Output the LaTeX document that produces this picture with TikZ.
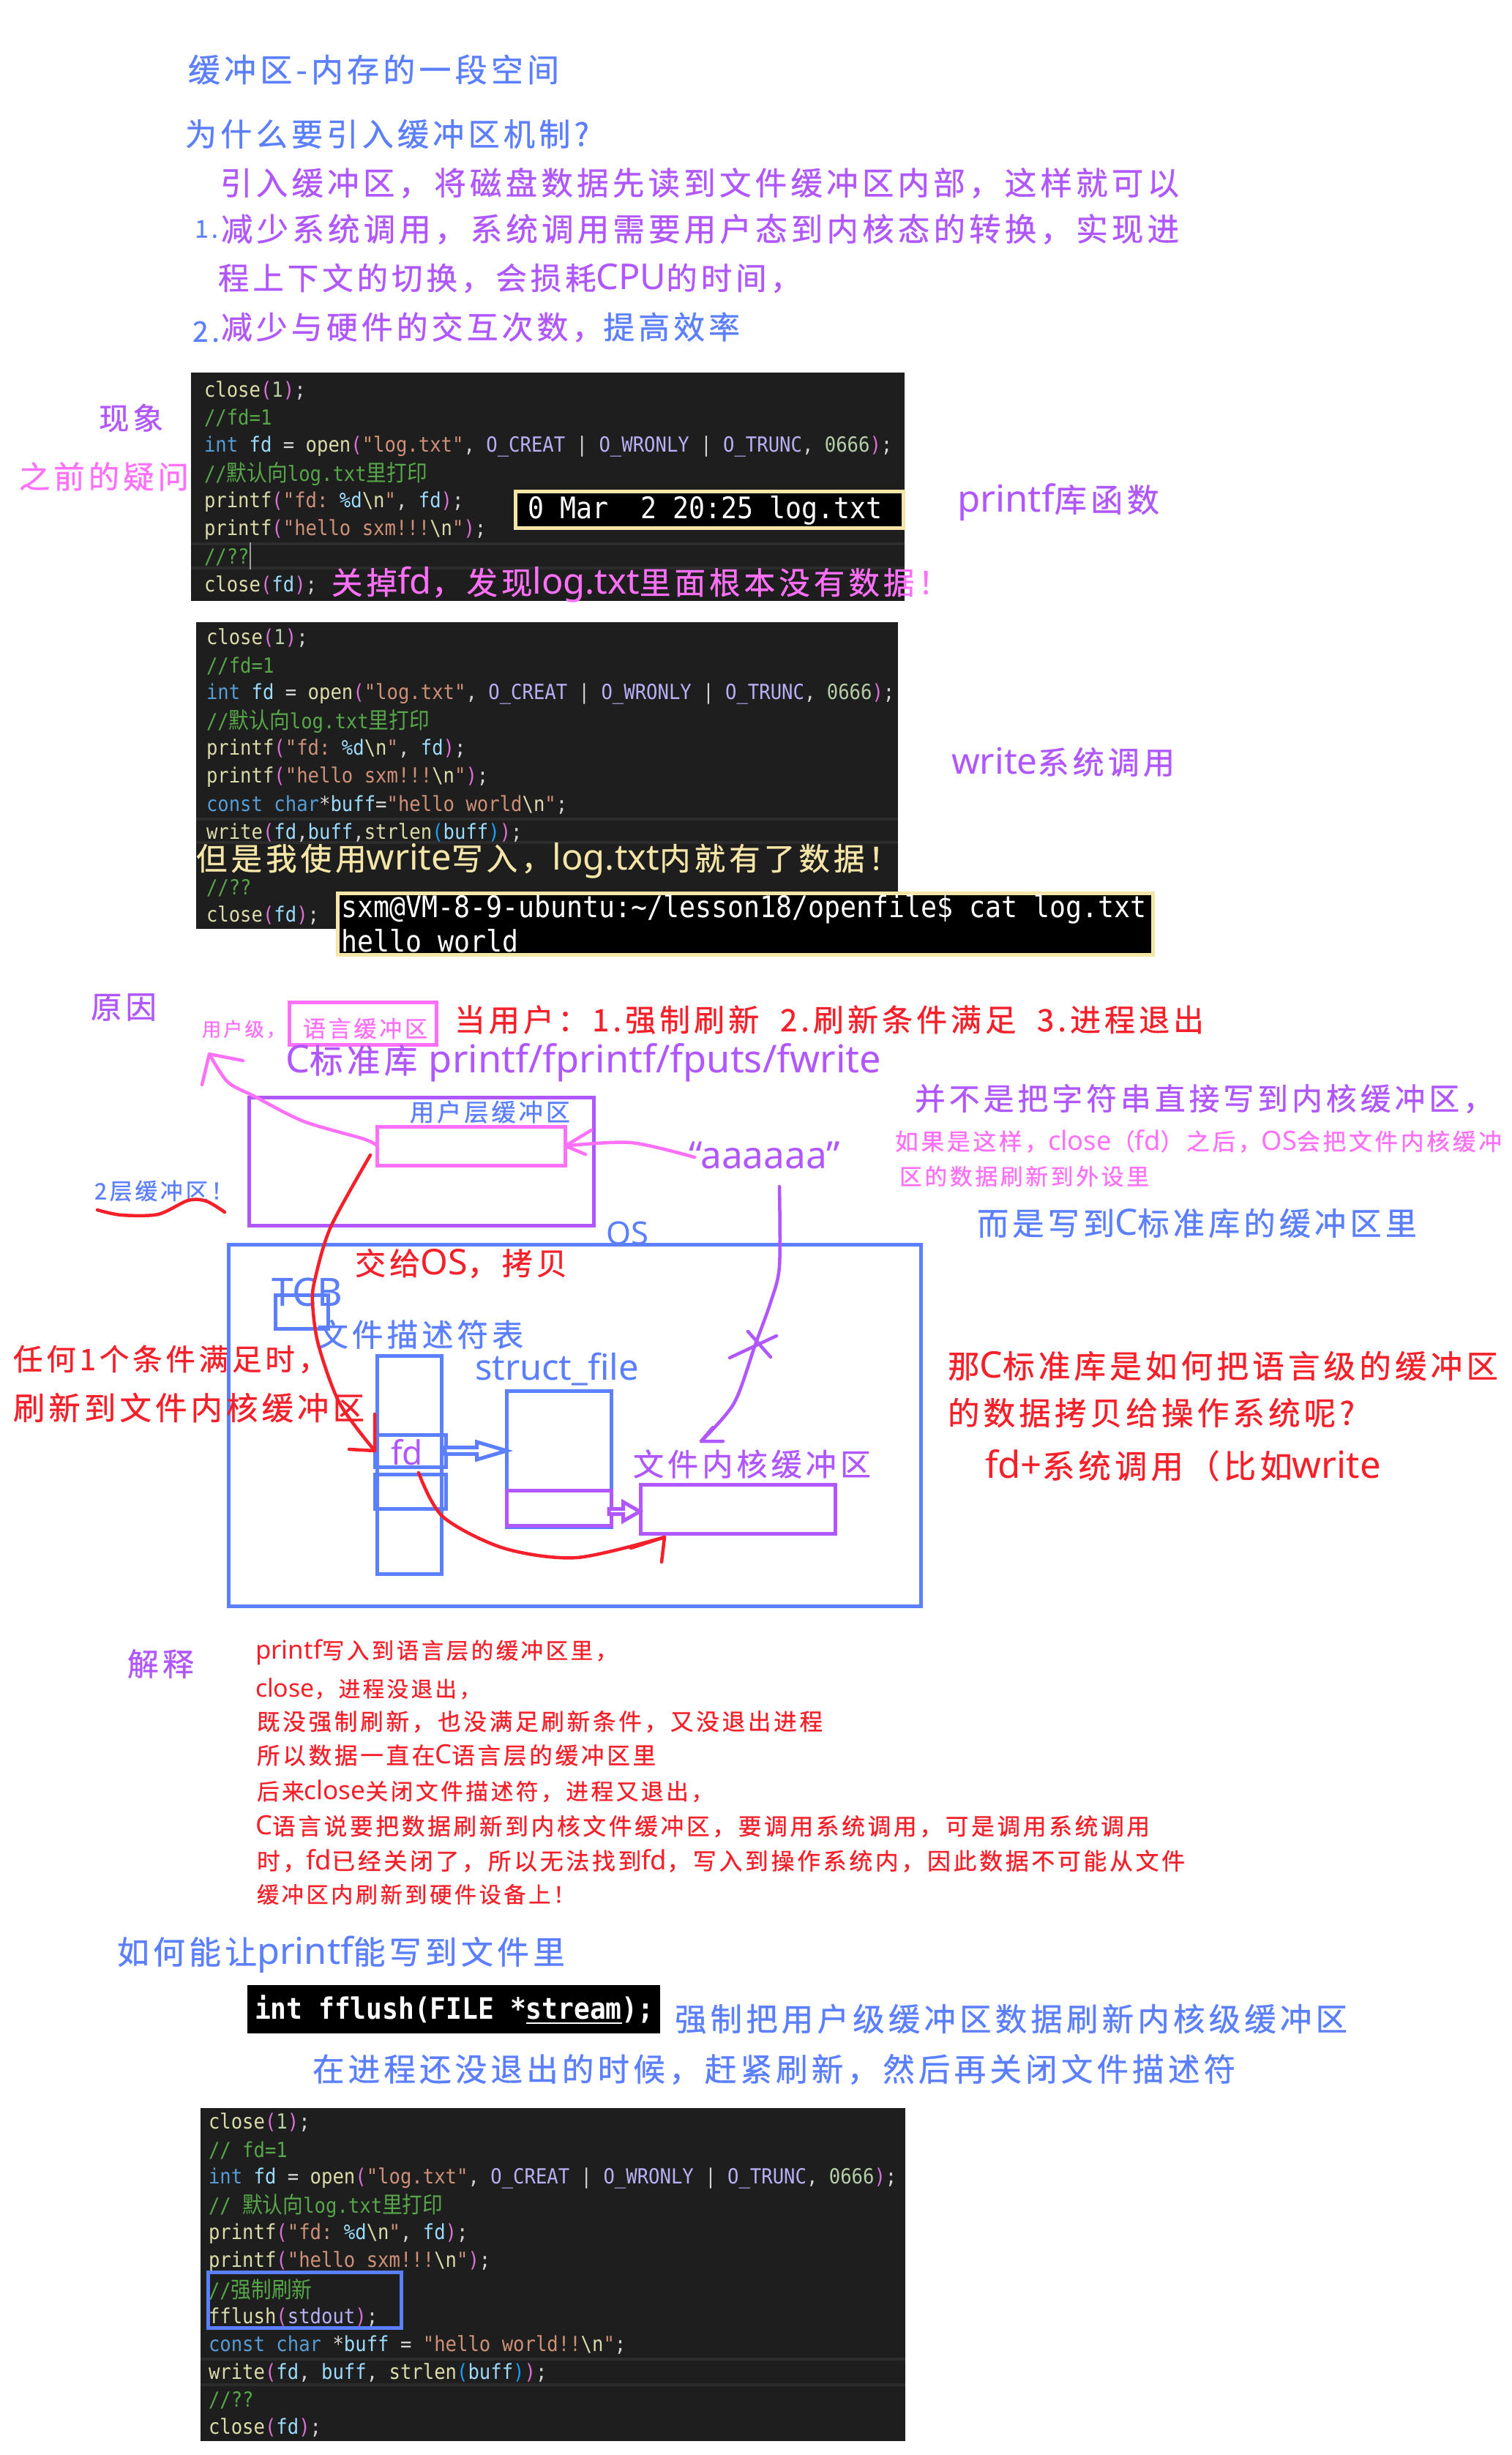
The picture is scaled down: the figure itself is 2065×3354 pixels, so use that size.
\documentclass[tikz,border=0pt]{standalone}
\usepackage{fontspec}
\usepackage{xcolor}
\usepackage{tikz}
\usetikzlibrary{shapes.arrows}

\setmonofont{DejaVu Sans Mono}
\newfontfamily\handfont[LetterSpace=12,FakeBold=0.7]{Noto Sans CJK SC}
\newfontfamily\cjkcode{Noto Sans CJK SC}
\newfontfamily\latfont{Noto Sans}

\definecolor{noteblue}{HTML}{5B7FFF}
\definecolor{notepurple}{HTML}{B057FF}
\definecolor{notepink}{HTML}{FF70F8}
\definecolor{notered}{HTML}{F5202A}
\definecolor{notecream}{HTML}{F5E6A8}
\definecolor{codebg}{HTML}{1E1E1E}
\definecolor{codehl}{HTML}{2C2C2C}
\definecolor{codefn}{HTML}{DCDCAA}
\definecolor{codecm}{HTML}{57A64A}
\definecolor{codekw}{HTML}{569CD6}
\definecolor{codevar}{HTML}{9CDCFE}
\definecolor{codestr}{HTML}{CE9178}
\definecolor{codecon}{HTML}{B8B0F5}
\definecolor{codenum}{HTML}{B5CEA8}
\definecolor{codepk}{HTML}{DA70D6}
\definecolor{codebl}{HTML}{179FFF}
\definecolor{codepl}{HTML}{D4D4D4}

\newlength\pxu
\setlength\pxu{0.01cm}

\newcommand{\hw}[2]{\resizebox{#1\pxu}{!}{#2}}
\newcommand{\lat}[1]{{\latfont\fontsize{11.5pt}{12pt}\selectfont #1}}
\newcommand{\cjkc}[1]{{\cjkcode\fontsize{8.75pt}{9pt}\selectfont #1}}
\newcommand{\narrow}[1]{\scalebox{0.9}[1]{#1}}
\newcommand{\tkfn}[1]{\textcolor{codefn}{#1}}
\newcommand{\tkcm}[1]{\textcolor{codecm}{#1}}
\newcommand{\tkkw}[1]{\textcolor{codekw}{#1}}
\newcommand{\tkvar}[1]{\textcolor{codevar}{#1}}
\newcommand{\tkstr}[1]{\textcolor{codestr}{#1}}
\newcommand{\tkcon}[1]{\textcolor{codecon}{#1}}
\newcommand{\tknum}[1]{\textcolor{codenum}{#1}}
\newcommand{\tkpk}[1]{\textcolor{codepk}{#1}}
\newcommand{\tkbl}[1]{\textcolor{codebl}{#1}}
\newcommand{\tkpl}[1]{\textcolor{codepl}{#1}}

\newcommand{\lnclose}{\tkfn{close}\tkpk{(}\tknum{1}\tkpk{)}\tkpl{;}}
\newcommand{\lnfdone}{\tkcm{//fd=1}}
\newcommand{\lnfdtwo}{\tkcm{// fd=1}}
\newcommand{\lnopen}{\tkkw{int} \tkvar{fd} \tkpl{=} \tkfn{open}\tkpk{(}\tkstr{"log.txt"}\tkpl{,} \tkcon{O\_CREAT} \tkpl{|} \tkcon{O\_WRONLY} \tkpl{|} \tkcon{O\_TRUNC}\tkpl{,} \tknum{0666}\tkpk{)}\tkpl{;}}
\newcommand{\lnhint}{\tkcm{//\cjkc{默认向}log.txt\cjkc{里打印}}}
\newcommand{\lnhinttwo}{\tkcm{// \cjkc{默认向}log.txt\cjkc{里打印}}}
\newcommand{\lnfd}{\tkfn{printf}\tkpk{(}\tkstr{"fd: }\tkvar{\%d}\tkfn{\textbackslash n}\tkstr{"}\tkpl{,} \tkvar{fd}\tkpk{)}\tkpl{;}}
\newcommand{\lnhello}{\tkfn{printf}\tkpk{(}\tkstr{"hello sxm!!!}\tkfn{\textbackslash n}\tkstr{"}\tkpk{)}\tkpl{;}}
\newcommand{\lnask}{\tkcm{//??}}
\newcommand{\lnclosefd}{\tkfn{close}\tkpk{(}\tkvar{fd}\tkpk{)}\tkpl{;}}
\newcommand{\lnbuff}{\tkkw{const} \tkkw{char}\tkpl{*}\tkvar{buff}\tkpl{=}\tkstr{"hello world}\tkfn{\textbackslash n}\tkstr{"}\tkpl{;}}
\newcommand{\lnwrite}{\tkfn{write}\tkpk{(}\tkvar{fd}\tkpl{,}\tkvar{buff}\tkpl{,}\tkfn{strlen}\tkbl{(}\tkvar{buff}\tkbl{)}\tkpk{)}\tkpl{;}}
\newcommand{\lnforce}{\tkcm{//\cjkc{强制刷新}}}
\newcommand{\lnflush}{\tkfn{fflush}\tkpk{(}\tkcon{stdout}\tkpk{)}\tkpl{;}}
\newcommand{\lnbufftwo}{\tkkw{const} \tkkw{char} \tkpl{*}\tkvar{buff} \tkpl{=} \tkstr{"hello world!!}\tkfn{\textbackslash n}\tkstr{"}\tkpl{;}}
\newcommand{\lnwritetwo}{\tkfn{write}\tkpk{(}\tkvar{fd}\tkpl{,} \tkvar{buff}\tkpl{,} \tkfn{strlen}\tkbl{(}\tkvar{buff}\tkbl{)}\tkpk{)}\tkpl{;}}

\tikzset{
    hand/.style={anchor=west,inner sep=0pt,outer sep=0pt,font=\handfont},
    codeline/.style={anchor=west,inner sep=0pt,outer sep=0pt,font=\ttfamily\fontsize{8.09pt}{9pt}\selectfont},
    termline/.style={anchor=west,inner sep=0pt,outer sep=0pt,text=white,font=\ttfamily\fontsize{11.55pt}{12pt}\selectfont},
    codebox/.style={fill=codebg,inner sep=0pt,outer sep=0pt},
    termbox/.style={fill=black,draw=notecream,line width=0.05cm,inner sep=0pt,outer sep=0pt},
    box/.style={draw=#1,line width=0.05cm,inner sep=0pt,outer sep=0pt},
    stroke/.style={draw=#1,line width=0.045cm,line cap=round,line join=round},
    hlbar/.style={draw=codehl,line width=0.04cm}
}

\begin{document}
\begin{tikzpicture}[x=0.01cm,y=-0.01cm]
    \fill[white] (0,0) rectangle (2065,3354);
    \useasboundingbox (0,0) rectangle (2065,3354);

    % notes on top
    \node[hand,text=noteblue] (title) at (257,95) {\hw{507}{缓冲区-内存的一段空间}};
    \node[hand,text=noteblue] (why) at (253,183) {\hw{552}{为什么要引入缓冲区机制?}};
    \node[hand,text=notepurple] (whya) at (301,250) {\hw{1310}{引入缓冲区，将磁盘数据先读到文件缓冲区内部，这样就可以}};
    \node[hand,text=noteblue,anchor=east,font=\handfont\fontsize{9.5pt}{11pt}\selectfont] (numa) at (298,313) {1.};
    \node[hand,text=notepurple] (whyb) at (302,313) {\hw{1309}{减少系统调用，系统调用需要用户态到内核态的转换，实现进}};
    \node[hand,text=notepurple] (whyc) at (298,380) {\hw{797}{程上下文的切换，会损耗\lat{CPU}的时间，}};
    \node[hand,text=noteblue,anchor=east,font=\handfont\fontsize{11pt}{13pt}\selectfont] (numb) at (300,453) {2.};
    \node[hand,text=notepurple] (whyd) at (302,447) {\hw{709}{减少与硬件的交互次数，\textcolor{noteblue}{提高效率}}};

    % first code block
    \node[codebox,minimum width=975\pxu,minimum height=312\pxu] (codea) at (748.5,665) {};
    \draw[hlbar] (codea.west |- 0,743) -- (codea.east |- 0,743);
    \draw[hlbar] (codea.west |- 0,776) -- (codea.east |- 0,776);
    \foreach \n/\row in {0/\lnclose,1/\lnfdone,2/\lnopen,3/\lnhint,4/\lnfd,5/\lnhello,6/\lnask,7/\lnclosefd}{
        \node[codeline] (codea\n) at (279,{533.5+38*\n}) {\narrow{\row}};
    }
    \draw[draw=codepl!75!black,line width=0.02cm] (342,741) -- (342,778);
    \node[termbox,minimum width=530\pxu,minimum height=50\pxu] (terma) at (969,696) {};
    \node[termline] (termatext) at (721,697) {\narrow{0 Mar\ \ 2 20:25 log.txt}};
    \node[hand,text=notepurple] (seen) at (135,571) {\hw{88}{现象}};
    \node[hand,text=notepink] (before) at (26,651) {\hw{232}{之前的疑问}};
    \node[hand,text=notepurple] (libfn) at (1308,686) {\hw{276}{\lat{printf}库函数}};
    \node[hand,text=notepink] (closed) at (453,799) {\hw{844}{关掉\lat{fd}，发现\lat{log.txt}里面根本没有数据！}};

    % second code block
    \node[codebox,minimum width=959\pxu,minimum height=419\pxu] (codeb) at (747.5,1059.5) {};
    \draw[hlbar] (codeb.west |- 0,1119) -- (codeb.east |- 0,1119);
    \draw[hlbar] (codeb.west |- 0,1151) -- (codeb.east |- 0,1151);
    \foreach \n/\row in {0/\lnclose,1/\lnfdone,2/\lnopen,3/\lnhint,4/\lnfd,5/\lnhello,6/\lnbuff,7/\lnwrite,9/\lnask,10/\lnclosefd}{
        \node[codeline] (codeb\n) at (282,{872+37.9*\n}) {\narrow{\row}};
    }
    \node[hand,text=notecream] (butwrite) at (268,1176) {\hw{961}{但是我使用\lat{write}写入，\lat{log.txt}内就有了数据！}};
    \node[termbox,minimum width=1114\pxu,minimum height=84\pxu] (termb) at (1018,1262) {};
    \node[termline] (termbtexta) at (466,1242) {\narrow{sxm@VM-8-9-ubuntu:\textasciitilde/lesson18/openfile\$ cat log.txt}};
    \node[termline] (termbtextb) at (466,1285) {\narrow{hello world}};
    \node[hand,text=notepurple] (syscall) at (1300,1041) {\hw{305}{\lat{write}系统调用}};

    % buffer diagram
    \node[hand,text=notepurple] (reason) at (124,1376) {\hw{90}{原因}};
    \node[hand,text=notepink] (userlvl) at (276,1406) {\hw{114}{用户级，}};
    \node[box=notepink,minimum width=201\pxu,minimum height=58\pxu] (langbox) at (496,1398.5) {};
    \node[hand,text=notepink] (langtext) at (414,1405) {\hw{170}{语言缓冲区}};
    \node[hand,text=notered] (when) at (621,1393) {\hw{1024}{当用户：1.强制刷新\ \ 2.刷新条件满足\ \ 3.进程退出}};
    \node[hand,text=notepurple] (stdc) at (390,1452) {\hw{814}{\lat{C}标准库 \lat{printf/fprintf/fputs/fwrite}}};
    \node[box=notepurple,minimum width=471\pxu,minimum height=175\pxu] (userbox) at (576,1586.5) {};
    \node[hand,text=noteblue] (usertext) at (560,1519) {\hw{219}{用户层缓冲区}};
    \node[box=notepink,minimum width=257\pxu,minimum height=53\pxu] (cbuf) at (644,1565.5) {};
    \node[hand,text=notepurple] (str) at (941,1578) {\hw{207}{\lat{“aaaaaa”}}};
    \node[hand,text=noteblue] (twolayer) at (129,1627) {\hw{190}{2层缓冲区！}};

    \node[hand,text=noteblue] (ostext) at (828,1685) {\hw{58}{\lat{OS}}};
    \node[box=noteblue,minimum width=946\pxu,minimum height=494\pxu] (osbox) at (785,1947) {};
    \node[hand,text=notered] (handover) at (485,1726) {\hw{290}{交给\lat{OS}，拷贝}};
    \node[hand,text=noteblue] (tcbtext) at (371,1765) {\hw{97}{\lat{TCB}}};
    \node[box=noteblue,minimum width=72\pxu,minimum height=46\pxu] (tcb) at (412,1792) {};
    \node[hand,text=noteblue] (fdtext) at (433,1823) {\hw{282}{文件描述符表}};
    \node[box=noteblue,minimum width=88\pxu,minimum height=298\pxu] (fdtable) at (559,2001) {};
    \node[box=noteblue,minimum width=97\pxu,minimum height=44\pxu] (fdcell) at (560.5,1982) {};
    \node[box=noteblue,minimum width=97\pxu,minimum height=47\pxu] (nextcell) at (560.5,2037.5) {};
    \node[hand,text=notepurple,anchor=center] (fdlabel) at (556,1984) {\hw{44}{\lat{fd}}};
    \node[hand,text=noteblue] (structtext) at (649,1871) {\hw{224}{\lat{struct\_file}}};
    \node[box=noteblue,minimum width=143\pxu,minimum height=186\pxu] (structbox) at (764,1993) {};
    \node[box=notepurple,minimum width=143\pxu,minimum height=48\pxu] (structbuf) at (764,2060) {};
    \node[hand,text=notepurple] (kerneltext) at (865,2000) {\hw{325}{文件内核缓冲区}};
    \node[box=notepurple,minimum width=266\pxu,minimum height=67\pxu] (kernelbuf) at (1008.5,2061.5) {};
    \node[single arrow,draw=noteblue,fill=white,line width=0.05cm,inner sep=0pt,
        minimum height=84\pxu,minimum width=24\pxu,single arrow head extend=0.045cm,
        single arrow tip angle=33] (fdarrow) at (643,1982) {};
    \node[single arrow,draw=notepurple,fill=white,line width=0.05cm,inner sep=0pt,
        minimum height=42\pxu,minimum width=26\pxu,single arrow head extend=0.065cm,
        single arrow tip angle=60] (bufarrow) at (850,2065) {};

    \node[hand,text=notered] (anya) at (18,1857) {\hw{430}{任何1个条件满足时，}};
    \node[hand,text=notered] (anyb) at (18,1923) {\hw{480}{刷新到文件内核缓冲区}};

    % pink arrows
    \coordinate (sa) at (str.west);
    \coordinate (sb) at (862,1561);
    \coordinate (sc) at (cbuf.east);
    \coordinate (sd) at (808,1544);
    \coordinate (se) at (800,1577);
    \draw[stroke=notepink] plot[smooth] coordinates {(949,1581) (sb) (sc)};
    \draw[stroke=notepink] (sd) -- (sc) -- (se);

    \coordinate (ua) at (cbuf.west);
    \coordinate (ub) at (497,1556);
    \coordinate (uc) at (415,1532);
    \coordinate (ud) at (348,1498);
    \coordinate (ue) at (311,1478);
    \coordinate (uf) at (286,1440);
    \coordinate (ug) at (276,1482);
    \coordinate (uh) at (332,1449);
    \draw[stroke=notepink] plot[smooth] coordinates {(ua) (ub) (uc) (ud) (ue) (uf)};
    \draw[stroke=notepink] (ug) -- (uf) -- (uh);

    % purple crossed arrow
    \coordinate (pa) at (1065,1621);
    \coordinate (pb) at (1065,1730);
    \coordinate (pc) at (1053,1779);
    \coordinate (pd) at (1032,1837);
    \coordinate (pe) at (1003,1917);
    \coordinate (pf) at (958,1969);
    \coordinate (pg) at (974,1950);
    \coordinate (ph) at (988,1969);
    \draw[stroke=notepurple] plot[smooth] coordinates {(pa) (pb) (pc) (pd) (pe) (pf)};
    \draw[stroke=notepurple] (pg) -- (pf) -- (ph);
    \coordinate (xa) at (1022,1819);
    \coordinate (xb) at (1053,1854);
    \coordinate (xc) at (1061,1825);
    \coordinate (xd) at (997,1855);
    \draw[stroke=notepurple] (xa) -- (xb);
    \draw[stroke=notepurple] (xc) -- (xd);

    % red arrows
    \coordinate (ra) at (506,1578);
    \coordinate (rb) at (452,1676);
    \coordinate (rc) at (431,1745);
    \coordinate (rd) at (427,1779);
    \coordinate (re) at (435,1837);
    \coordinate (rf) at (464,1917);
    \coordinate (rg) at (fdcell.west);
    \coordinate (rh) at (512,1932);
    \coordinate (ri) at (477,1980);
    \draw[stroke=notered] plot[smooth] coordinates {(ra) (rb) (rc) (rd) (re) (rf) (rg)};
    \draw[stroke=notered] (rh) -- (rg) -- (ri);

    \coordinate (ka) at (572,2012);
    \coordinate (kb) at (605,2072);
    \coordinate (kc) at (688,2115);
    \coordinate (kd) at (788,2128);
    \coordinate (ke) at (908,2100);
    \coordinate (kf) at (904,2134);
    \coordinate (kg) at (862,2115);
    \draw[stroke=notered] plot[smooth] coordinates {(ka) (kb) (kc) (kd) (ke)};
    \draw[stroke=notered] (kf) -- (ke) -- (kg);

    \coordinate (wa) at (133,1653);
    \coordinate (wb) at (166,1660);
    \coordinate (wc) at (216,1659);
    \coordinate (wd) at (257,1640);
    \coordinate (we) at (282,1641);
    \coordinate (wf) at (307,1656);
    \draw[stroke=notered] plot[smooth] coordinates {(wa) (wb) (wc) (wd) (we) (wf)};

    % notes on the right
    \node[hand,text=notepurple] (nota) at (1250,1501) {\hw{791}{并不是把字符串直接写到内核缓冲区，}};
    \node[hand,text=notepink] (notb) at (1223,1559) {\hw{829}{如果是这样，\lat{close}（\lat{fd}）之后，\lat{OS}会把文件内核缓冲}};
    \node[hand,text=notepink] (notc) at (1229,1607) {\hw{341}{区的数据刷新到外设里}};
    \node[hand,text=noteblue] (notd) at (1335,1671) {\hw{601}{而是写到\lat{C}标准库的缓冲区里}};
    \node[hand,text=notered] (howa) at (1295,1866) {\hw{752}{那\lat{C}标准库是如何把语言级的缓冲区}};
    \node[hand,text=notered] (howb) at (1295,1930) {\hw{556}{的数据拷贝给操作系统呢?}};
    \node[hand,text=notered] (howc) at (1346,2002) {\hw{541}{\lat{fd+}系统调用（比如\lat{write}}};

    % explanation
    \node[hand,text=notepurple] (explain) at (174,2273) {\hw{91}{解释}};
    \node[hand,text=notered] (expa) at (349,2257) {\hw{495}{\lat{printf}写入到语言层的缓冲区里，}};
    \node[hand,text=notered] (expb) at (349,2307) {\hw{308}{\lat{close}，进程没退出，}};
    \node[hand,text=notered] (expc) at (351,2352) {\hw{773}{既没强制刷新，也没满足刷新条件，又没退出进程}};
    \node[hand,text=notered] (expd) at (351,2398) {\hw{545}{所以数据一直在\lat{C}语言层的缓冲区里}};
    \node[hand,text=notered] (expe) at (351,2447) {\hw{624}{后来\lat{close}关闭文件描述符，进程又退出，}};
    \node[hand,text=notered] (expf) at (349,2495) {\hw{1222}{\lat{C}语言说要把数据刷新到内核文件缓冲区，要调用系统调用，可是调用系统调用}};
    \node[hand,text=notered] (expg) at (351,2542) {\hw{1268}{时，\lat{fd}已经关闭了，所以无法找到\lat{fd}，写入到操作系统内，因此数据不可能从文件}};
    \node[hand,text=notered] (exph) at (351,2588) {\hw{435}{缓冲区内刷新到硬件设备上！}};

    % fflush
    \node[hand,text=noteblue] (howfile) at (160,2670) {\hw{612}{如何能让\lat{printf}能写到文件里}};
    \node[fill=black,inner sep=0pt,outer sep=0pt,minimum width=564\pxu,minimum height=66\pxu] (proto) at (620,2745) {};
    \node[termline,font=\ttfamily\bfseries\fontsize{11.45pt}{12pt}\selectfont] (prototext) at (348,2746) {\narrow{int fflush(FILE *\underline{stream});}};
    \node[hand,text=noteblue] (forcea) at (922,2758) {\hw{919}{强制把用户级缓冲区数据刷新内核级缓冲区}};
    \node[hand,text=noteblue] (forceb) at (427,2827) {\hw{1261}{在进程还没退出的时候，赶紧刷新，然后再关闭文件描述符}};

    % third code block
    \node[codebox,minimum width=963\pxu,minimum height=455\pxu] (codec) at (755.5,3107.5) {};
    \draw[hlbar] (codec.west |- 0,3223) -- (codec.east |- 0,3223);
    \draw[hlbar] (codec.west |- 0,3258) -- (codec.east |- 0,3258);
    \foreach \n/\row in {0/\lnclose,1/\lnfdtwo,2/\lnopen,3/\lnhinttwo,4/\lnfd,5/\lnhello,6/\lnforce,7/\lnflush,8/\lnbufftwo,9/\lnwritetwo,10/\lnask,11/\lnclosefd}{
        \node[codeline] (codec\n) at (285,{2900+37.9*\n}) {\narrow{\row}};
    }
    \node[box=noteblue,minimum width=264\pxu,minimum height=76\pxu] (flushbox) at (416,3142.5) {};
\end{tikzpicture}
\end{document}
